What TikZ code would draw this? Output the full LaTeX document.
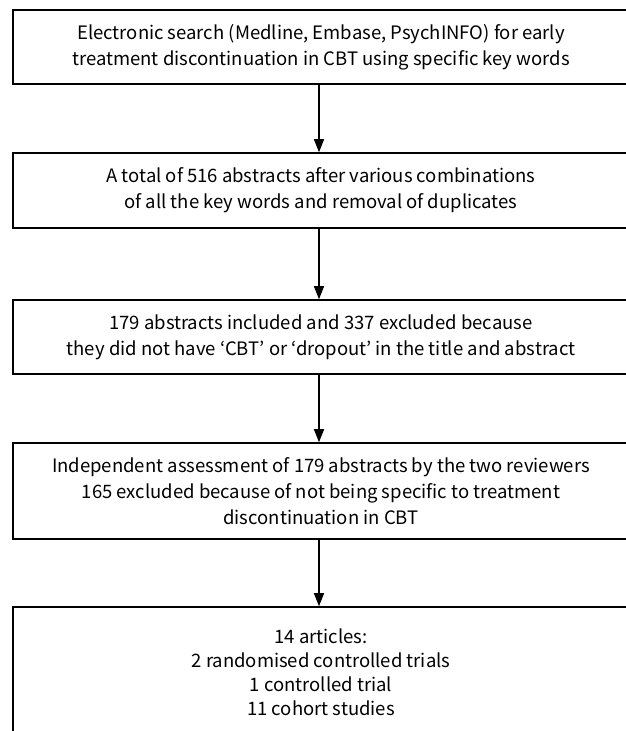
\documentclass[tikz,border=0pt]{standalone}
\usepackage{fontspec}
\setmainfont{Noto Sans CJK KR}
\usetikzlibrary{arrows.meta}

\begin{document}
\begin{tikzpicture}[x=1pt,y=-1pt]

      \useasboundingbox (0,0) rectangle (625,731);

      \begin{scope}[every node/.style={draw, line width=1.6pt, minimum width=616pt, inner sep=0pt,
          align=center, font=\fontsize{18.5}{26}\selectfont}]
        \node[minimum height=74pt]  (1) at (321,47)  {Electronic search (Medline, Embase, PsychINFO) for early\\treatment discontinuation in CBT using specific key words};
        \node[minimum height=75pt]  (2) at (321,190.5) {A total of 516 abstracts after various combinations\\of all the key words and removal of duplicates};
        \node[minimum height=74pt]  (3) at (321,337) {179 abstracts included and 337 excluded because\\they did not have `CBT' or `dropout' in the title and abstract};
        \node[minimum height=96pt]  (4) at (321,491) {Independent assessment of 179 abstracts by the two reviewers\\165 excluded because of not being specific to treatment\\discontinuation in CBT};
        \node[minimum height=130pt, font=\fontsize{18.5}{24}\selectfont] (5) at (321,672) {14 articles:\\2 randomised controlled trials\\1 controlled trial\\11 cohort studies};
      \end{scope}

      \begin{scope}[every edge/.style={draw, line width=1.3pt, -{Triangle[width=10pt,length=13pt]}}]
        \path ([xshift=-2pt]1.south) edge ([xshift=-2pt]2.north);
        \path ([xshift=-2pt]2.south) edge ([xshift=-2pt]3.north);
        \path ([xshift=-2pt]3.south) edge ([xshift=-2pt]4.north);
        \path ([xshift=-2pt]4.south) edge ([xshift=-2pt]5.north);
      \end{scope}

    \end{tikzpicture}
\end{document}
